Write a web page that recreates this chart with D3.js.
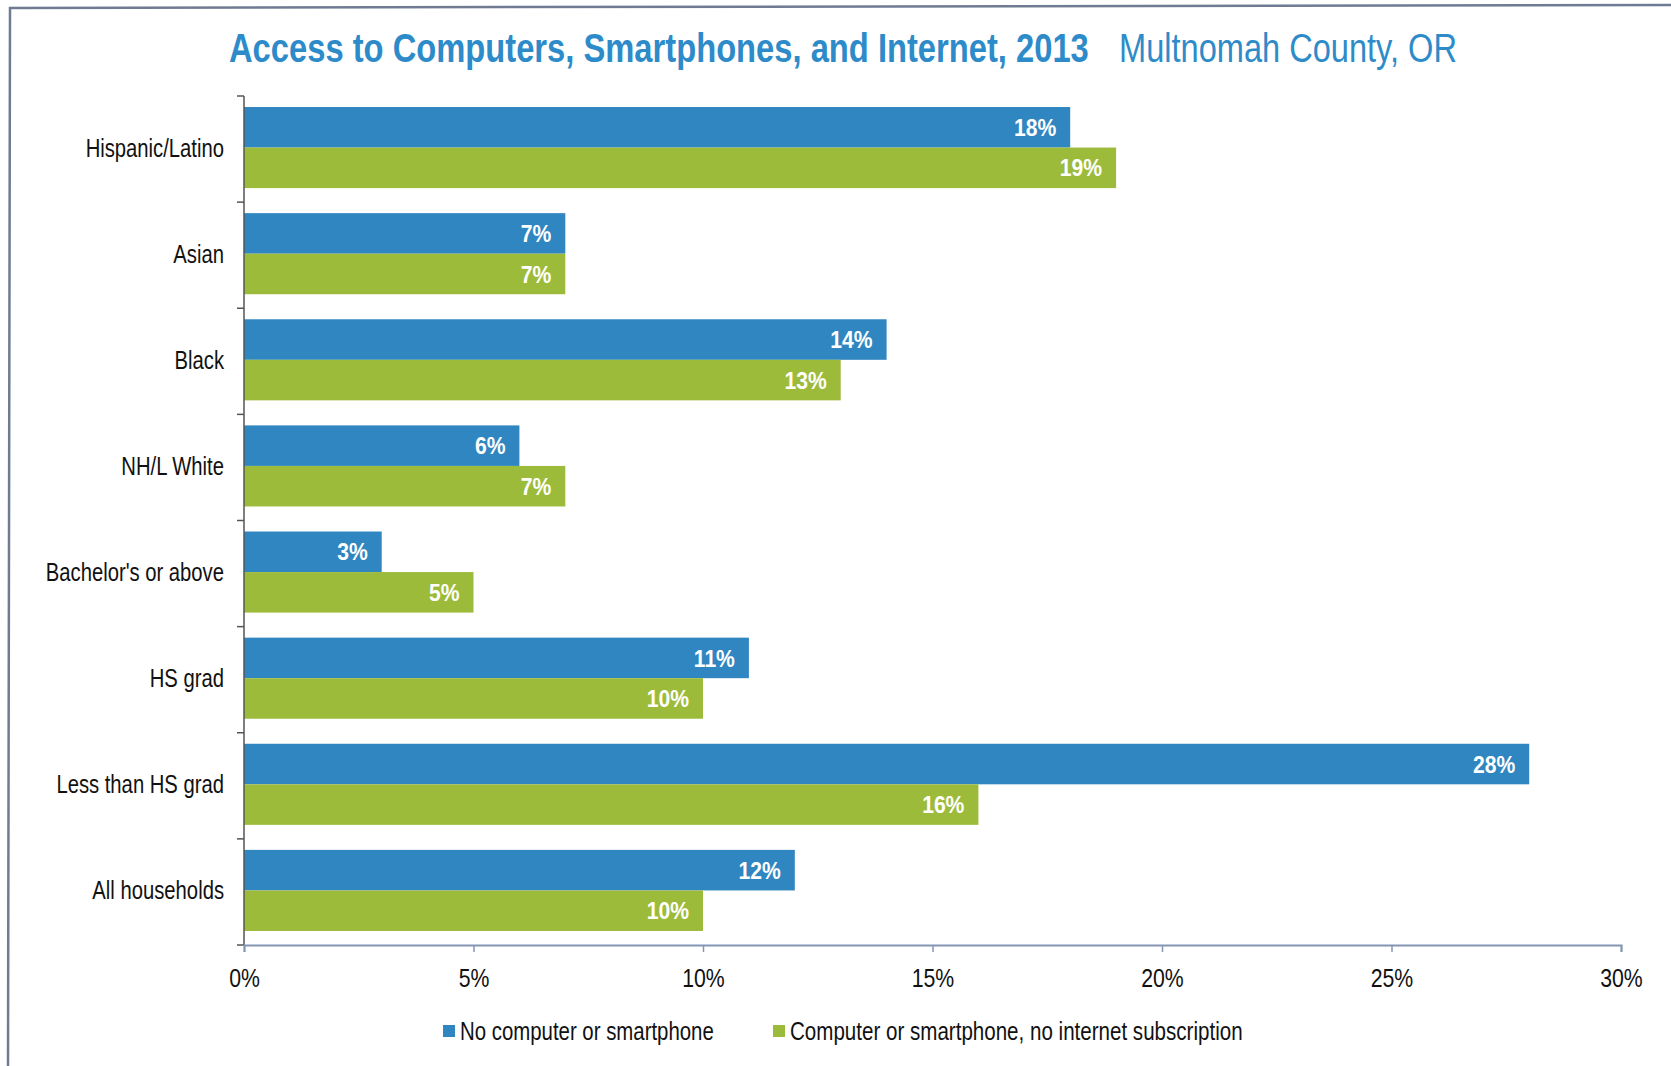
<!DOCTYPE html>
<html>
<head>
<meta charset="utf-8">
<script src="https://cdn.jsdelivr.net/npm/d3@7"></script>
<style>
  html, body { margin: 0; padding: 0; background: #ffffff; }
  svg { display: block; }
  text { font-family: "Liberation Sans Narrow", "Arial Narrow", "Liberation Sans", Arial, sans-serif; }
</style>
</head>
<body>
<svg id="chart" width="1671" height="1066"></svg>
<script>
const categories = ["Hispanic/Latino", "Asian", "Black", "NH/L White", "Bachelor's or above", "HS grad", "Less than HS grad", "All households"];
const noComputer = [18, 7, 14, 6, 3, 11, 28, 12];
const noInternet = [19, 7, 13, 7, 5, 10, 16, 10];
const seriesNames = ["No computer or smartphone", "Computer or smartphone, no internet subscription"];
const seriesColors = ["#2f86c0", "#9dbb3b"];
const xTicks = [0, 5, 10, 15, 20, 25, 30];
const titleMain = "Access to Computers, Smartphones, and Internet, 2013";
const titleSub = "Multnomah County, OR";

const W = 1671, H = 1066;
const margin = { left: 244, right: W - 1621, top: 96, bottom: H - 945 };
const narrow = 0.81;

const svg = d3.select("#chart");

// frame
svg.append("path")
  .attr("d", "M8,1066 L10,8 L1671,5")
  .attr("fill", "none")
  .attr("stroke", "#6f7b93")
  .attr("stroke-width", 2.5);

const x = d3.scaleLinear().domain([0, 30]).range([margin.left, W - margin.right]);
const y = d3.scaleBand().domain(categories).range([margin.top, H - margin.bottom])
  .paddingInner(0.236).paddingOuter(0.118).align(0.44);
const ySub = d3.scaleBand().domain([0, 1]).range([0, y.bandwidth()]);

const rows = categories.map((c, i) => ({ cat: c, vals: [noComputer[i], noInternet[i]] }));

// text fitted to a target width by horizontal scaling
function fitted(parent, str, px, py, width, attrs) {
  const t = parent.append("text").attr("x", 0).attr("y", 0).text(str);
  Object.entries(attrs).forEach(([k, v]) => t.attr(k, v));
  const natural = t.node().getComputedTextLength();
  const k = width / natural;
  t.attr("transform", `translate(${px},${py}) scale(${k},1)`);
  return t;
}

// title
fitted(svg, titleMain, 229, 62, 860, { "font-size": 40, "font-weight": "bold", "fill": "#2e8bc9" });
fitted(svg, titleSub, 1119, 62, 338, { "font-size": 40, "fill": "#2e8bc9" });

// bars
const g = svg.append("g");
const rowG = g.selectAll("g.row").data(rows).join("g")
  .attr("class", "row")
  .attr("transform", d => `translate(0,${y(d.cat)})`);

rowG.selectAll("rect").data(d => d.vals.map((v, j) => ({ v, j }))).join("rect")
  .attr("x", x(0))
  .attr("y", d => ySub(d.j))
  .attr("width", d => x(d.v) - x(0))
  .attr("height", ySub.bandwidth())
  .attr("fill", d => seriesColors[d.j]);

rowG.selectAll("text.val").data(d => d.vals.map((v, j) => ({ v, j }))).join("text")
  .attr("class", "val")
  .attr("transform", d => `translate(${x(d.v) - 14},${ySub(d.j) + ySub.bandwidth() / 2}) scale(0.88,1)`)
  .attr("dy", "0.36em")
  .attr("text-anchor", "end")
  .attr("font-size", 24)
  .attr("font-weight", "bold")
  .attr("fill", "#ffffff")
  .text(d => d.v + "%");

// y axis
const yAxisG = svg.append("g").attr("transform", `translate(${x(0)},0)`);
yAxisG.append("line")
  .attr("x1", 0).attr("x2", 0)
  .attr("y1", margin.top).attr("y2", H - margin.bottom)
  .attr("stroke", "#555").attr("stroke-width", 1.5);
const tickYs = d3.range(categories.length + 1).map(i => margin.top + i * y.step());
yAxisG.selectAll("line.tk").data(tickYs).join("line")
  .attr("class", "tk")
  .attr("x1", -7).attr("x2", 0)
  .attr("y1", d => d).attr("y2", d => d)
  .attr("stroke", "#555").attr("stroke-width", 1.5);
yAxisG.selectAll("text.cat").data(categories).join("text")
  .attr("class", "cat")
  .attr("transform", d => `translate(-20,${y(d) + y.bandwidth() / 2}) scale(${narrow},1)`)
  .attr("dy", "0.36em")
  .attr("text-anchor", "end")
  .attr("font-size", 25)
  .attr("fill", "#111")
  .text(d => d);

// x axis
const xAxisG = svg.append("g")
  .attr("transform", `translate(0,${H - margin.bottom})`)
  .call(d3.axisBottom(x).tickValues(xTicks).tickFormat(d => d + "%").tickSize(7).tickPadding(17));
xAxisG.select(".domain").attr("stroke", "#8496b4").attr("stroke-width", 2);
xAxisG.selectAll(".tick line").attr("stroke", "#8496b4").attr("stroke-width", 1.5);
xAxisG.selectAll(".tick text")
  .attr("font-size", 25)
  .attr("fill", "#111")
  .attr("transform", `scale(0.85,1)`)
  .style("font-family", "'Liberation Sans Narrow', 'Arial Narrow', 'Liberation Sans', sans-serif");

// legend
const legendX = [443, 773];
const legendW = [254, 453];
const legend = svg.append("g");
seriesNames.forEach((name, j) => {
  legend.append("rect")
    .attr("x", legendX[j]).attr("y", 1025)
    .attr("width", 12).attr("height", 12)
    .attr("fill", seriesColors[j]);
  fitted(legend, name, legendX[j] + 17, 1031, legendW[j], { "font-size": 25, "fill": "#111", "dy": "0.36em" });
});
</script>
</body>
</html>
